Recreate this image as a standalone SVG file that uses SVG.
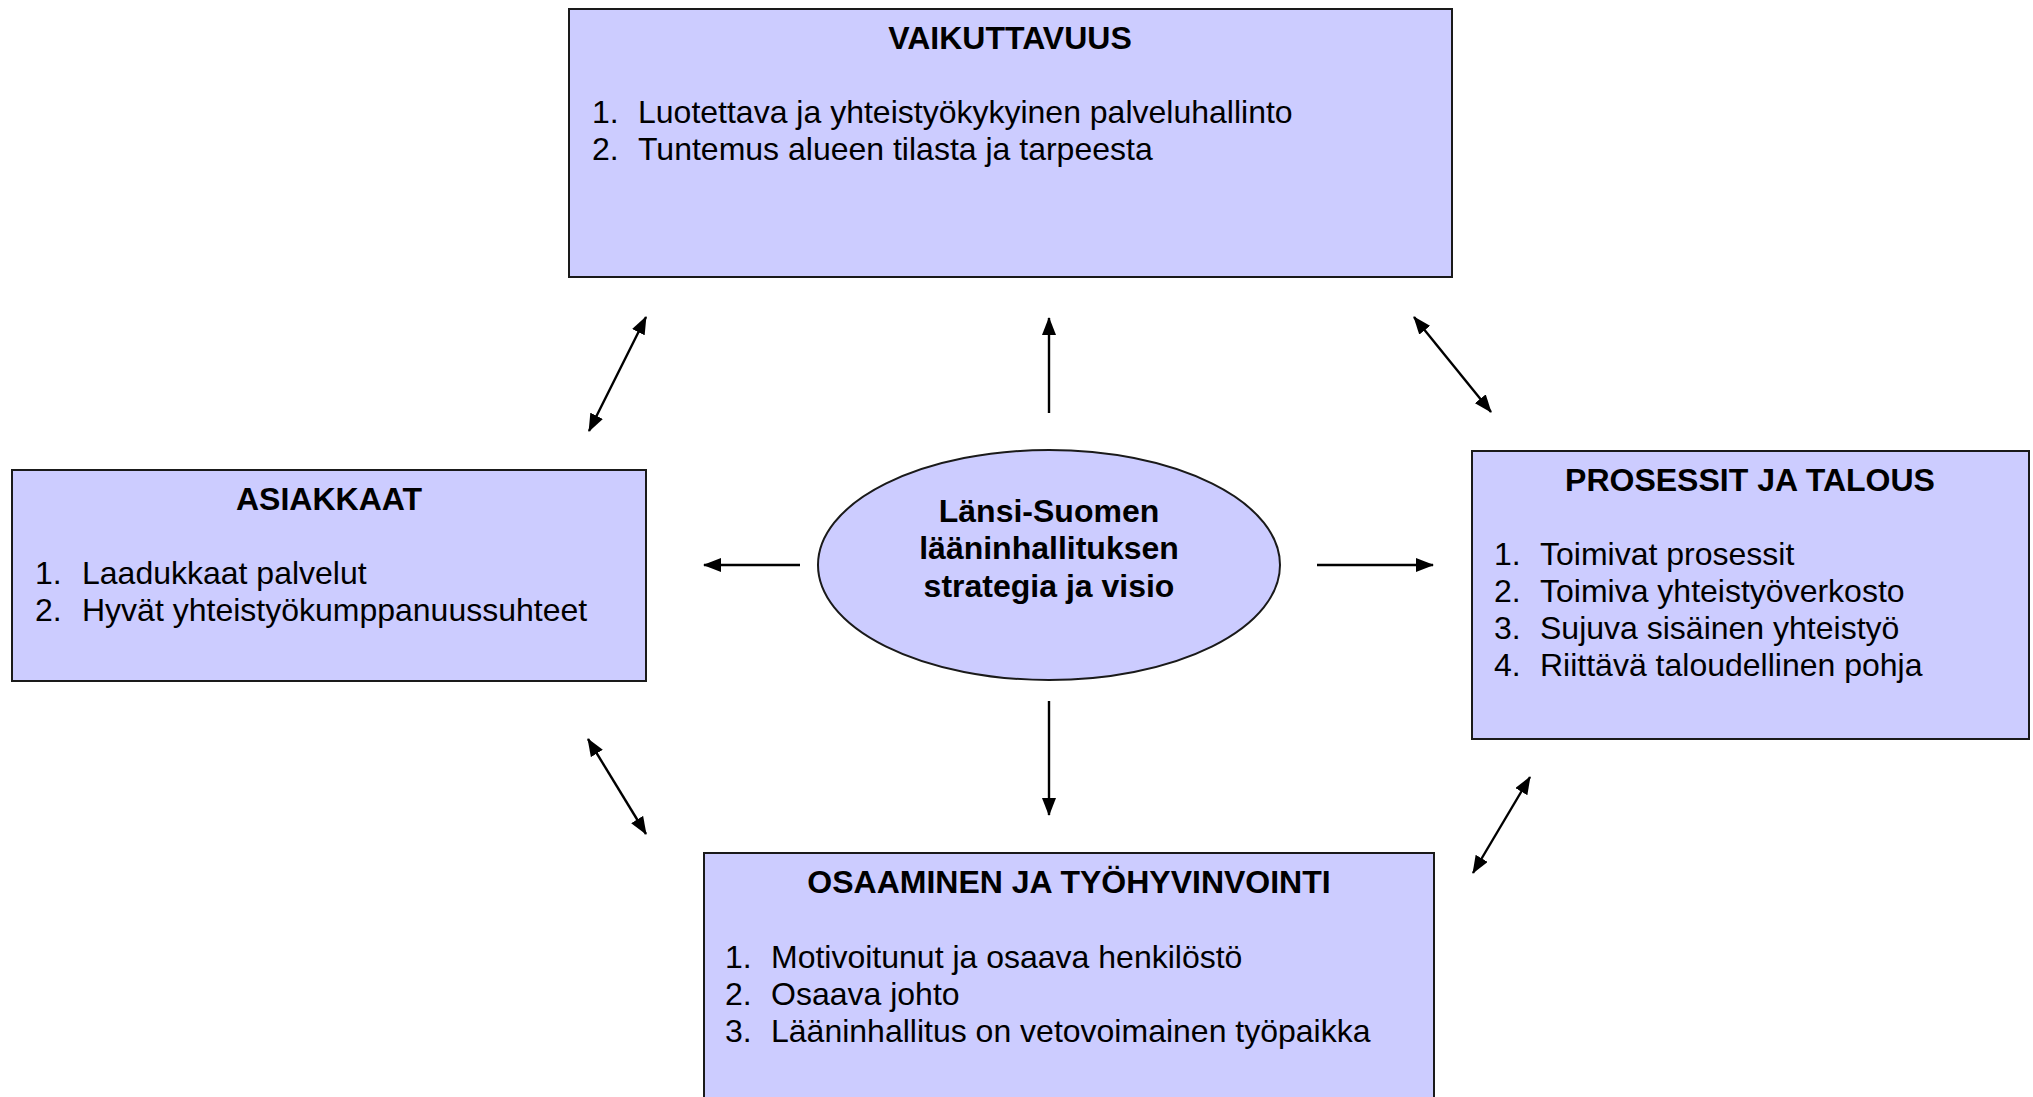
<svg xmlns="http://www.w3.org/2000/svg" width="2033" height="1097" viewBox="0 0 2033 1097">
<style>
.box{fill:#CCCCFF;stroke:#1a1a1a;stroke-width:2}
.t{font-family:"Liberation Sans",Arial,sans-serif;font-size:32px;fill:#000}
.h{font-weight:bold;text-anchor:middle}
.c{font-weight:bold;text-anchor:middle}
.ar{stroke:#000;stroke-width:2.4;fill:none}
</style>
<defs>
<marker id="ah" viewBox="0 0 18 14" refX="17" refY="7" markerWidth="18" markerHeight="14" markerUnits="userSpaceOnUse" orient="auto-start-reverse">
<path d="M0,0 L18,7 L0,14 z" fill="#000"/>
</marker>
</defs>
<rect width="2033" height="1097" fill="#fff"/>
<g id="vaikuttavuus">
<rect class="box" x="569" y="9" width="883" height="268"/>
<text class="t h" x="1010" y="49">VAIKUTTAVUUS</text>
<text class="t" x="592" y="123">1.</text><text class="t" x="638" y="123">Luotettava ja yhteistyökykyinen palveluhallinto</text>
<text class="t" x="592" y="160">2.</text><text class="t" x="638" y="160">Tuntemus alueen tilasta ja tarpeesta</text>
</g>
<g id="asiakkaat">
<rect class="box" x="12" y="470" width="634" height="211"/>
<text class="t h" x="329" y="510">ASIAKKAAT</text>
<text class="t" x="35" y="584">1.</text><text class="t" x="82" y="584">Laadukkaat palvelut</text>
<text class="t" x="35" y="621">2.</text><text class="t" x="82" y="621">Hyvät yhteistyökumppanuussuhteet</text>
</g>
<g id="prosessit">
<rect class="box" x="1472" y="451" width="557" height="288"/>
<text class="t h" x="1750" y="491">PROSESSIT JA TALOUS</text>
<text class="t" x="1494" y="565">1.</text><text class="t" x="1540" y="565">Toimivat prosessit</text>
<text class="t" x="1494" y="602">2.</text><text class="t" x="1540" y="602">Toimiva yhteistyöverkosto</text>
<text class="t" x="1494" y="639">3.</text><text class="t" x="1540" y="639">Sujuva sisäinen yhteistyö</text>
<text class="t" x="1494" y="676">4.</text><text class="t" x="1540" y="676">Riittävä taloudellinen pohja</text>
</g>
<g id="osaaminen">
<rect class="box" x="704" y="853" width="730" height="260"/>
<text class="t h" x="1069" y="893">OSAAMINEN JA TYÖHYVINVOINTI</text>
<text class="t" x="725" y="968">1.</text><text class="t" x="771" y="968">Motivoitunut ja osaava henkilöstö</text>
<text class="t" x="725" y="1005">2.</text><text class="t" x="771" y="1005">Osaava johto</text>
<text class="t" x="725" y="1042">3.</text><text class="t" x="771" y="1042">Lääninhallitus on vetovoimainen työpaikka</text>
</g>
<g id="strategia">
<ellipse class="box" cx="1049" cy="565" rx="231" ry="115"/>
<text class="t c" x="1049" y="522">Länsi-Suomen</text>
<text class="t c" x="1049" y="559">lääninhallituksen</text>
<text class="t c" x="1049" y="597">strategia ja visio</text>
</g>
<g id="connectors">
<line class="ar" x1="1049" y1="413" x2="1049" y2="318" marker-end="url(#ah)"/>
<line class="ar" x1="1049" y1="701" x2="1049" y2="815" marker-end="url(#ah)"/>
<line class="ar" x1="800" y1="565" x2="704" y2="565" marker-end="url(#ah)"/>
<line class="ar" x1="1317" y1="565" x2="1433" y2="565" marker-end="url(#ah)"/>
<line class="ar" x1="589" y1="431" x2="646" y2="317" marker-start="url(#ah)" marker-end="url(#ah)"/>
<line class="ar" x1="1414" y1="317" x2="1491" y2="412" marker-start="url(#ah)" marker-end="url(#ah)"/>
<line class="ar" x1="588" y1="739" x2="646" y2="834" marker-start="url(#ah)" marker-end="url(#ah)"/>
<line class="ar" x1="1530" y1="777" x2="1473" y2="873" marker-start="url(#ah)" marker-end="url(#ah)"/>
</g>
</svg>
